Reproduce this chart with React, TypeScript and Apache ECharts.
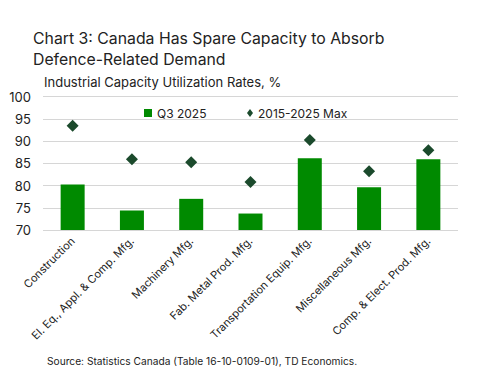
import React, { useEffect, useRef } from "react";
import * as echarts from "echarts";

const categories = [
  "Construction",
  "El. Eq., Appl. & Comp. Mfg.",
  "Machinery Mfg.",
  "Fab. Metal Prod. Mfg.",
  "Transportation Equip. Mfg.",
  "Miscellaneous Mfg.",
  "Comp. & Elect. Prod. Mfg.",
];
const q3Values = [80.2, 74.4, 77.0, 73.7, 86.1, 79.6, 85.9];
const maxValues = [93.4, 85.9, 85.2, 80.8, 90.2, 83.2, 87.9];
const yTicks = [70, 75, 80, 85, 90, 95, 100];

const FONT = "Inter, 'Open Sans', sans-serif";
const DIAMOND = "#1b4a2c";

export default function App() {
  const ref = useRef<HTMLDivElement>(null);
  useEffect(() => {
    if (!ref.current) return;
    const chart = echarts.init(ref.current, undefined, { renderer: "svg" });
    chart.setOption({
      animation: false,
      backgroundColor: "#ffffff",
      textStyle: { fontFamily: FONT },
      graphic: [
        {
          type: "text",
          left: 33,
          top: 28,
          style: {
            text: "Chart 3: Canada Has Spare Capacity to Absorb\nDefence-Related Demand",
            font: `15.8px ${FONT}`,
            fill: "#222",
            lineHeight: 21,
          },
        },
        {
          type: "text",
          left: 44,
          top: 75,
          style: {
            text: "Industrial Capacity Utilization Rates, %",
            font: `13px ${FONT}`,
            fill: "#222",
          },
        },
        {
          type: "text",
          left: 47,
          top: 356,
          style: {
            text: "Source: Statistics Canada (Table 16-10-0109-01), TD Economics.",
            font: `10.2px ${FONT}`,
            fill: "#222",
          },
        },
      ],
      legend: [
        {
          left: 139,
          top: 102,
          itemWidth: 8,
          itemHeight: 8,
          textStyle: { fontSize: 12, color: "#222", fontFamily: FONT },
          data: [{ name: "Q3 2025", icon: "rect" }],
        },
        {
          left: 242,
          top: 102,
          itemWidth: 6,
          itemHeight: 8,
          itemGap: 0,
          textStyle: { fontSize: 12, color: "#222", fontFamily: FONT },
          data: [{ name: "2015-2025 Max", icon: "diamond", itemStyle: { color: DIAMOND, opacity: 1 } }],
        },
      ],
      grid: { left: 43, right: 19, top: 96.5, bottom: 151 },
      xAxis: {
        type: "category",
        data: categories,
        axisLine: { show: false },
        axisTick: { show: false },
        axisLabel: {
          rotate: 45,
          interval: 0,
          fontSize: 11,
          color: "#222",
          margin: 9,
          fontFamily: FONT,
        },
      },
      yAxis: {
        type: "value",
        min: yTicks[0],
        max: yTicks[yTicks.length - 1],
        interval: 5,
        axisLine: { show: false },
        axisTick: { show: false },
        axisLabel: { fontSize: 13, color: "#222", margin: 12, fontFamily: FONT },
        splitLine: { lineStyle: { color: "#d6d6d6", width: 1 } },
      },
      series: [
        {
          name: "Q3 2025",
          type: "bar",
          data: q3Values,
          barWidth: 24,
          itemStyle: { color: "#008a00" },
        },
        {
          name: "2015-2025 Max",
          type: "scatter",
          data: maxValues,
          symbol: "diamond",
          symbolSize: 12,
          itemStyle: { color: DIAMOND, opacity: 1 },
          z: 3,
        },
      ],
    });
    return () => chart.dispose();
  }, []);
  return <div ref={ref} style={{ width: 477, height: 381, position: "absolute", left: 0, top: 0 }} />;
}
